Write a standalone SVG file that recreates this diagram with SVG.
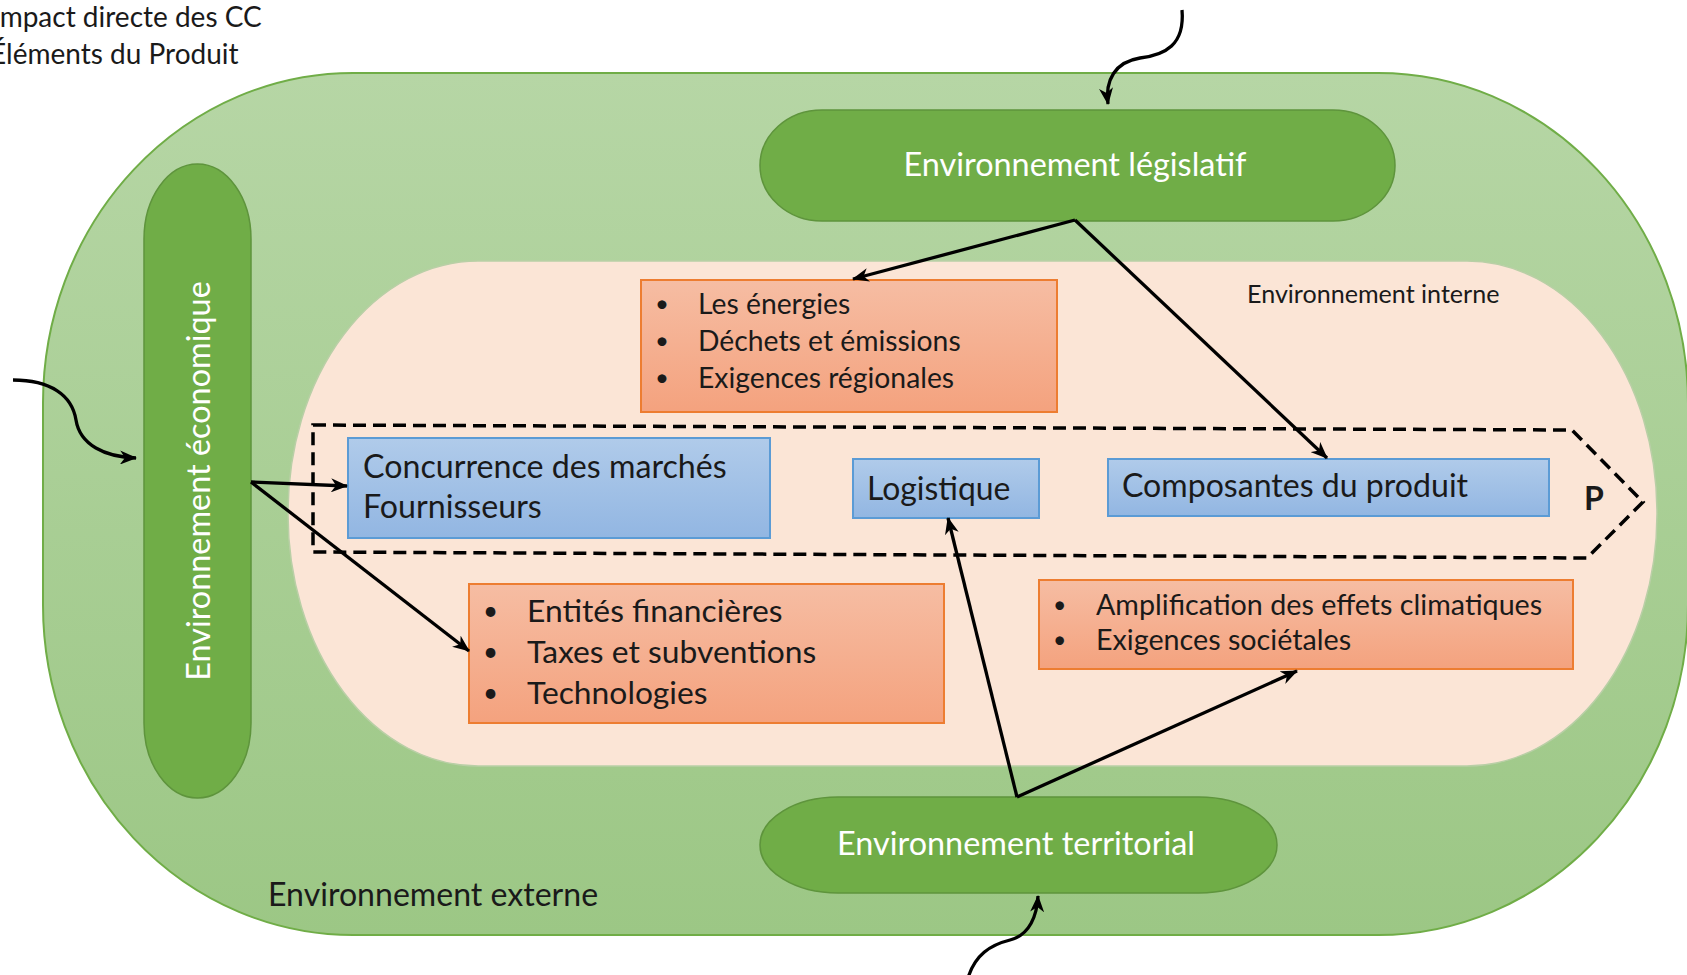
<svg xmlns="http://www.w3.org/2000/svg" width="1687" height="975" viewBox="0 0 1687 975">
<defs>
<linearGradient id="gOuter" x1="0" y1="0" x2="0" y2="1"><stop offset="0" stop-color="#b6d6a5"/><stop offset="1" stop-color="#9cc785"/></linearGradient>
<linearGradient id="gOr" x1="0" y1="0" x2="0" y2="1"><stop offset="0" stop-color="#f6bda3"/><stop offset="1" stop-color="#f4a27e"/></linearGradient>
<linearGradient id="gBl" x1="0" y1="0" x2="0" y2="1"><stop offset="0" stop-color="#b0cbea"/><stop offset="1" stop-color="#92b6e2"/></linearGradient>
<marker id="ah" markerUnits="userSpaceOnUse" markerWidth="18" markerHeight="14" refX="16" refY="7" orient="auto"><path d="M0,0 L17,7 L0,14 L5,7 z" fill="#000"/></marker>
<style>
text{font-family:Lato,"Liberation Sans",sans-serif;}
.dark{fill:#1a1a1a;}
.wht{fill:#ffffff;}
.gnode{fill:#70ad47;stroke:#5e943c;stroke-width:1.5;}
.obox{fill:url(#gOr);stroke:#ed7d31;stroke-width:2;}
.bbox{fill:url(#gBl);stroke:#5b9bd5;stroke-width:2;}
.conn{fill:none;stroke:#000;stroke-width:3.3;marker-end:url(#ah);}
.bul{font-size:24px;}
</style>
</defs>
<rect width="1687" height="975" fill="#ffffff"/>
<g id="title">
<text x="-8" y="27" font-size="28" class="dark">Impact directe des CC</text>
<text x="-10" y="64" font-size="28" class="dark">Éléments du Produit</text>
</g>
<g id="externe">
<path d="M353,73 L1378,73 A310,330 0 0 1 1688,403 L1688,605 A310,330 0 0 1 1378,935 L353,935 A310,330 0 0 1 43,605 L43,403 A310,330 0 0 1 353,73 Z" fill="url(#gOuter)" stroke="#70ad47" stroke-width="2"/>
<text x="268" y="906" font-size="32.1" class="dark">Environnement externe</text>
</g>
<g id="interne">
<path d="M478,261 L1467,261 A190,252 0 0 1 1657,513 L1657,514 A190,252 0 0 1 1467,766 L478,766 A190,252 0 0 1 288,514 L288,513 A190,252 0 0 1 478,261 Z" fill="#fbe5d6" stroke="#b9cfa6" stroke-width="1.5"/>
<text x="1247" y="303" font-size="25.1" class="dark">Environnement interne</text>
</g>
<g id="produit">
<path d="M313,425 L1572,430 L1643,502 L1587,558 L313,552 Z" fill="none" stroke="#000" stroke-width="3.5" stroke-dasharray="13,7"/>
<text x="1584" y="510" font-size="32" font-weight="bold" class="dark">P</text>
</g>
<g id="legislatif">
<rect x="760" y="110" width="635" height="111" rx="62" ry="55.5" class="gnode"/>
<text x="1075" y="176" font-size="32.4" text-anchor="middle" class="wht">Environnement législatif</text>
</g>
<g id="economique">
<rect x="144" y="164" width="107" height="634" rx="53.5" ry="75" class="gnode"/>
<text transform="translate(210,481) rotate(-90)" x="0" y="0" font-size="32.4" text-anchor="middle" class="wht">Environnement économique</text>
</g>
<g id="territorial">
<rect x="760" y="797" width="517" height="96" rx="78" ry="48" class="gnode"/>
<text x="1016" y="855" font-size="32.4" text-anchor="middle" class="wht">Environnement territorial</text>
</g>
<g id="energies">
<rect x="641" y="280" width="416" height="132" class="obox"/>
<text class="dark bul"><tspan x="655" y="312">•</tspan><tspan x="655" y="349">•</tspan><tspan x="655" y="386">•</tspan></text>
<text font-size="28.3" class="dark"><tspan x="698" y="314">Les énergies</tspan><tspan x="698" y="351">Déchets et émissions</tspan><tspan x="698" y="388">Exigences régionales</tspan></text>
</g>
<g id="concurrence">
<rect x="348" y="438" width="422" height="100" class="bbox"/>
<text font-size="32.2" class="dark"><tspan x="363" y="478">Concurrence des marchés</tspan><tspan x="363" y="518">Fournisseurs</tspan></text>
</g>
<g id="logistique">
<rect x="853" y="459" width="186" height="59" class="bbox"/>
<text x="867" y="500" font-size="31.9" class="dark">Logistique</text>
</g>
<g id="composantes">
<rect x="1108" y="459" width="441" height="57" class="bbox"/>
<text x="1122" y="497" font-size="32.1" class="dark">Composantes du produit</text>
</g>
<g id="financieres">
<rect x="469" y="584" width="475" height="139" class="obox"/>
<text class="dark bul" style="font-size:26px"><tspan x="483" y="620">•</tspan><tspan x="483" y="661">•</tspan><tspan x="483" y="702">•</tspan></text>
<text font-size="31.8" class="dark"><tspan x="527" y="622">Entités financières</tspan><tspan x="527" y="663">Taxes et subventions</tspan><tspan x="527" y="704">Technologies</tspan></text>
</g>
<g id="climatiques">
<rect x="1039" y="580" width="534" height="89" class="obox"/>
<text class="dark bul" style="font-size:23px"><tspan x="1053" y="613">•</tspan><tspan x="1053" y="648">•</tspan></text>
<text font-size="28.7" class="dark"><tspan x="1096" y="615">Amplification des effets climatiques</tspan><tspan x="1096" y="650">Exigences sociétales</tspan></text>
</g>
<g id="connectors">
<path class="conn" d="M1182,10 C1185,45 1165,55 1140,58 C1115,62 1105,80 1108,104"/>
<path class="conn" d="M13,380 C50,380 72,395 76,420 C80,445 105,457 136,458"/>
<path class="conn" d="M968,978 C975,955 990,945 1010,940 C1030,935 1037,915 1038,896"/>
<path class="conn" d="M1075,220 L853,279"/>
<path class="conn" d="M1075,220 L1327,458"/>
<path class="conn" d="M251,482 L347,486"/>
<path class="conn" d="M251,482 L469,651"/>
<path class="conn" d="M1017,797 L948,518"/>
<path class="conn" d="M1017,797 L1297,671"/>
</g>
</svg>
